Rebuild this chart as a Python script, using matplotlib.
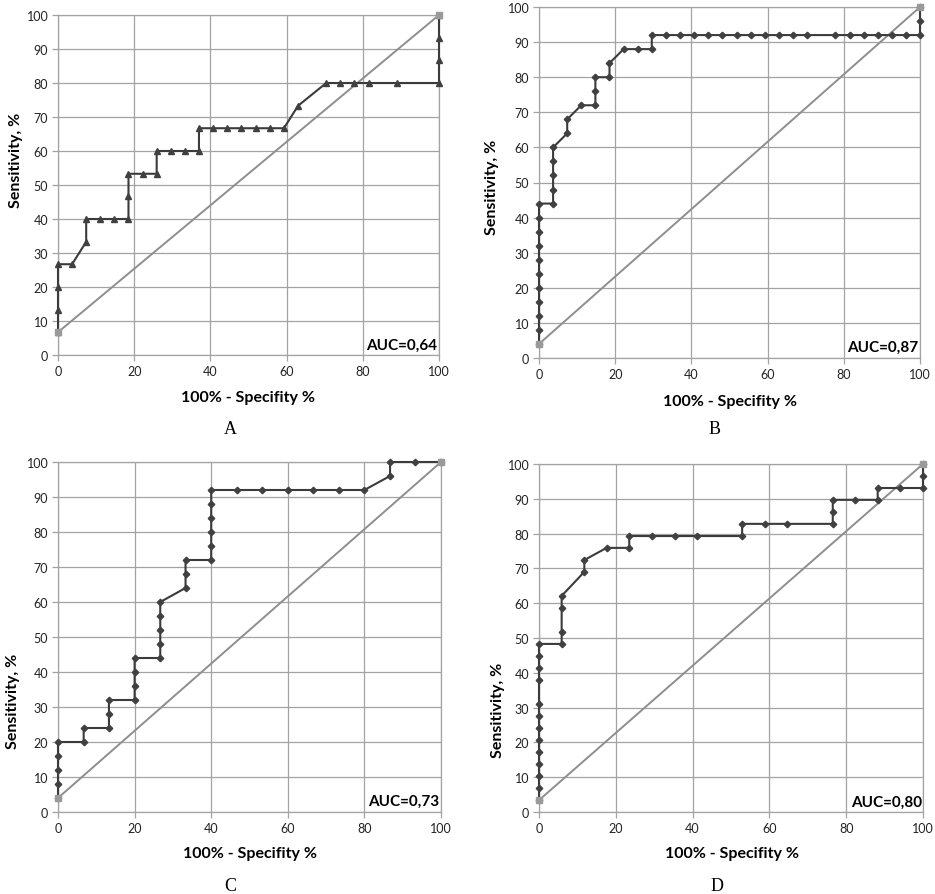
import matplotlib
matplotlib.use('Agg')
import matplotlib.pyplot as plt

# ROC curves (100% - specificity, sensitivity)
fpr_a = [0, 0, 0, 0, 3.7, 7.4, 7.4, 11.1, 14.8, 18.5, 18.5, 18.5, 22.2, 25.9, 25.9,
         29.6, 33.3, 37.0, 37.0, 40.7, 44.4, 48.1, 51.9, 55.6, 59.3, 63.0, 70.4,
         74.1, 77.8, 81.5, 88.9, 100, 100, 100, 100]
tpr_a = [6.7, 13.3, 20.0, 26.7, 26.7, 33.3, 40.0, 40.0, 40.0, 40.0, 46.7, 53.3, 53.3,
         53.3, 60.0, 60.0, 60.0, 60.0, 66.7, 66.7, 66.7, 66.7, 66.7, 66.7, 66.7, 73.3,
         80, 80, 80, 80, 80, 80, 86.7, 93.3, 100]

fpr_b = [0, 0, 0, 0, 0, 0, 0, 0, 0, 0, 0, 3.7, 3.7, 3.7, 3.7, 3.7, 7.4, 7.4, 11.1,
         14.8, 14.8, 14.8, 18.5, 18.5, 22.2, 25.9, 29.6, 29.6, 33.3, 37.0, 40.7, 44.4,
         48.1, 51.9, 55.6, 59.3, 63.0, 66.7, 70.4, 77.8, 81.5, 85.2, 88.9, 92.6, 96.3,
         100, 100, 100]
tpr_b = [4, 8, 12, 16, 20, 24, 28, 32, 36, 40, 44, 44, 48, 52, 56, 60, 64, 68, 72,
         72, 76, 80, 80, 84, 88, 88, 88, 92, 92, 92, 92, 92, 92, 92, 92, 92, 92, 92,
         92, 92, 92, 92, 92, 92, 92, 92, 96, 100]

fpr_c = [0, 0, 0, 0, 0, 6.7, 6.7, 13.3, 13.3, 13.3, 20, 20, 20, 20, 26.7, 26.7, 26.7,
         26.7, 26.7, 33.3, 33.3, 33.3, 40, 40, 40, 40, 40, 40, 46.7, 53.3, 60, 66.7,
         73.3, 80, 86.7, 86.7, 93.3, 100]
tpr_c = [4, 8, 12, 16, 20, 20, 24, 24, 28, 32, 32, 36, 40, 44, 44, 48, 52, 56, 60,
         64, 68, 72, 72, 76, 80, 84, 88, 92, 92, 92, 92, 92, 92, 92, 96, 100, 100, 100]

fpr_d = [0, 0, 0, 0, 0, 0, 0, 0, 0, 0, 0, 0, 0, 5.9, 5.9, 5.9, 5.9, 11.8, 11.8, 17.6,
         23.5, 23.5, 29.4, 35.3, 41.2, 52.9, 52.9, 58.8, 64.7, 76.5, 76.5, 76.5, 82.4,
         88.2, 88.2, 94.1, 100, 100, 100]
tpr_d = [3.4, 6.9, 10.3, 13.8, 17.2, 20.7, 24.1, 27.6, 31.0, 37.9, 41.4, 44.8, 48.3,
         48.3, 51.7, 58.6, 62.1, 69.0, 72.4, 75.9, 75.9, 79.3, 79.3, 79.3, 79.3, 79.3,
         82.8, 82.8, 82.8, 82.8, 86.2, 89.7, 89.7, 89.7, 93.1, 93.1, 93.1, 96.6, 100]

diag_start = [6.7, 4, 4, 3.4]
auc_labels = ['AUC=0,64', 'AUC=0,87', 'AUC=0,73', 'AUC=0,80']
panel_letters = ['A', 'B', 'C', 'D']
curves = [(fpr_a, tpr_a), (fpr_b, tpr_b), (fpr_c, tpr_c), (fpr_d, tpr_d)]
markers = ['^', 'D', 'D', 'D']

W, H = 935, 895
plt.rcParams['font.family'] = ['Lato', 'DejaVu Sans']

fig = plt.figure(figsize=(W / 100, H / 100), dpi=100)

# axes boxes in pixels: left, right, top, bottom
boxes = [(58, 439, 16, 356), (539, 920, 8, 359),
         (58, 441, 463, 813), (539, 923, 465, 813)]
# text positions in pixels
ylab_pos = [(16, 160), (492, 187), (13, 701), (498, 710)]
xlab_pos = [(248, 398), (730, 402), (250, 854), (732, 854)]
letter_pos = [(230, 430), (715, 430), (230, 887), (717, 887)]
auc_pos = [(437, 346), (918, 348), (439, 802), (922, 803)]

grid_col = '#a3a3a3'
line_col = '#3b3b3b'
diag_col = '#8e8e8e'

for i, (l, r, t, b) in enumerate(boxes):
    ax = fig.add_axes([l / W, 1 - b / H, (r - l) / W, (b - t) / H])
    fpr, tpr = curves[i]
    ax.plot([0, 100], [diag_start[i], 100], color=diag_col, lw=1.4, zorder=2)
    ms = 5 if markers[i] == '^' else 3.3
    ax.plot(fpr, tpr, color=line_col, lw=1.5, marker=markers[i], ms=ms,
            mfc='#404040', mec='#404040', zorder=3, clip_on=False)
    # end markers of the reference line sit on top
    ax.plot([0, 100], [diag_start[i], 100], ls='none', marker='s', ms=5,
            color='#9a9a9a', zorder=4, clip_on=False)
    ax.set_xlim(0, 100)
    ax.set_ylim(0, 100)
    ax.set_xticks(range(0, 101, 20))
    ax.set_yticks(range(0, 101, 10))
    ax.grid(True, color=grid_col, lw=0.9)
    ax.set_axisbelow(True)
    for s in ax.spines.values():
        s.set_color(grid_col)
        s.set_linewidth(0.9)
    ax.tick_params(colors=grid_col, labelcolor='#222222', labelsize=9,
                   length=4, width=0.9, pad=3)

    fig.text(ylab_pos[i][0] / W, 1 - ylab_pos[i][1] / H, 'Sensitivity, %',
             rotation=90, ha='center', va='center', fontsize=11.5, fontweight='bold')
    fig.text(xlab_pos[i][0] / W, 1 - xlab_pos[i][1] / H, '100% - Specifity %',
             ha='center', va='center', fontsize=11.5, fontweight='bold')
    fig.text(letter_pos[i][0] / W, 1 - letter_pos[i][1] / H, panel_letters[i],
             ha='center', va='center', fontsize=13, family='Liberation Serif')
    fig.text(auc_pos[i][0] / W, 1 - auc_pos[i][1] / H, auc_labels[i],
             ha='right', va='center', fontsize=11, fontweight='bold')

fig.savefig('out.png', dpi=100)
